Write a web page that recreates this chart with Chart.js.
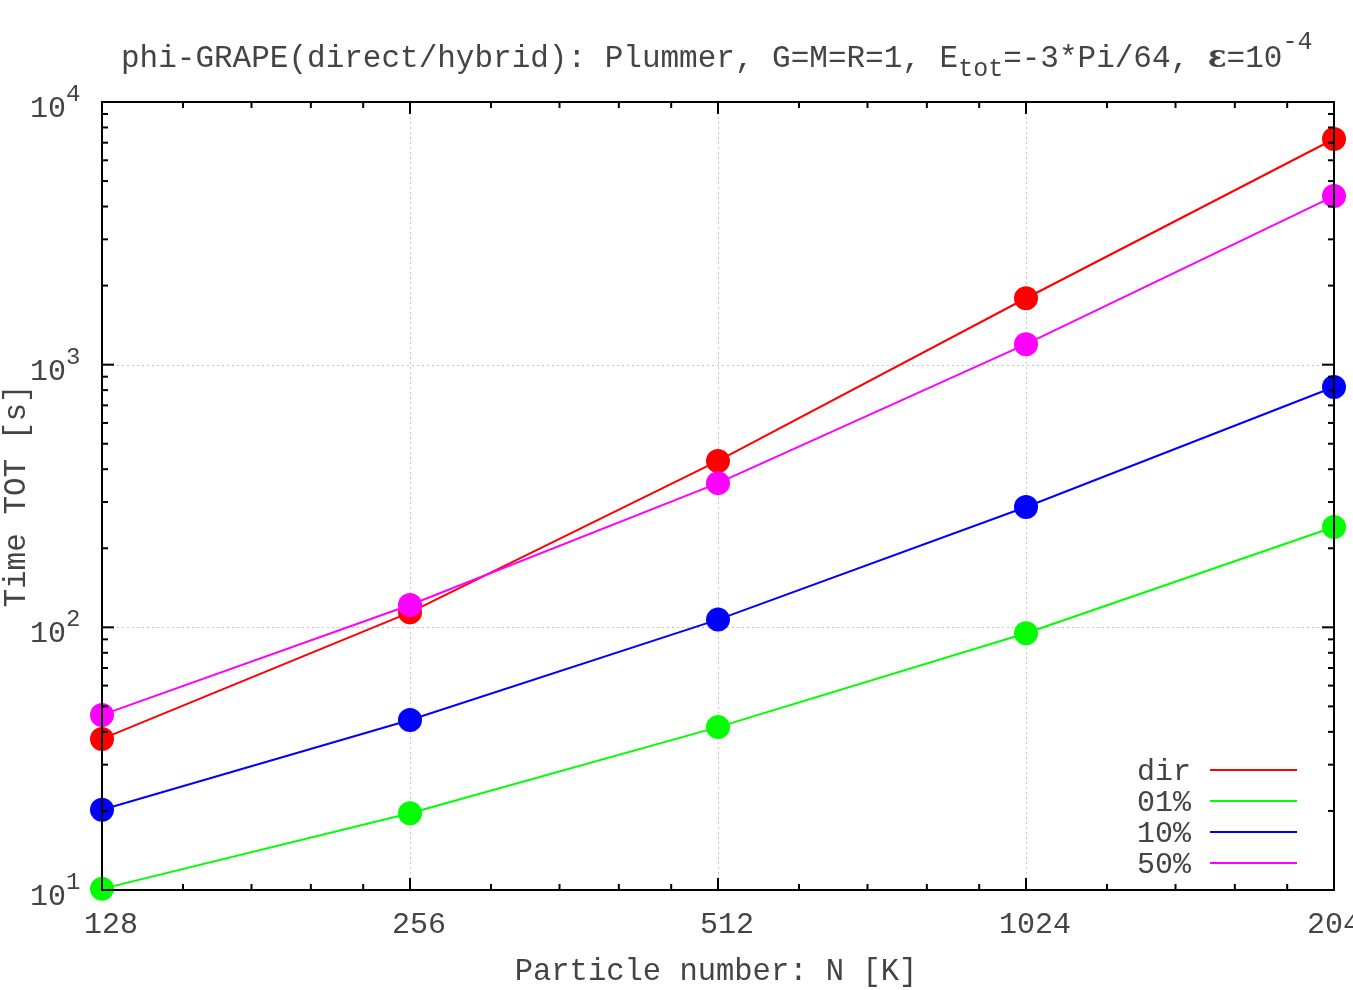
<!DOCTYPE html>
<html>
<head>
<meta charset="utf-8">
<script src="https://cdn.jsdelivr.net/npm/chart.js@4/dist/chart.umd.min.js"></script>
<style>
  html, body { margin: 0; padding: 0; background: #fff; overflow: hidden; }
  canvas { display: block; }
</style>
</head>
<body>
<canvas id="c" width="1353" height="990"></canvas>
<script>
// Particle number N [K] and total wall-clock time [s]
const particleCounts = [128, 256, 512, 1024, 2048];
const timeDirect = [37.6, 114, 430, 1790, 7230];
const time01 = [10.1, 19.6, 41.7, 95, 241];
const time10 = [20.2, 44.4, 107, 287, 822];
const time50 = [46.4, 121.6, 354, 1197, 4385];

const seriesNames = ['dir', '01%', '10%', '50%'];
const seriesColors = ['#ff0000', '#00ff00', '#0000ff', '#ff00ff'];

// Axis ticks
const xTickValues = [128, 256, 512, 1024, 2048];
const xMinorFactors = [1.2, 1.4, 1.6, 1.8];
const yDecades = [1, 2, 3, 4];
const yMinorFactors = [2, 3, 4, 5, 6, 7, 8, 9];

const FONT = '"Courier New", "Nimbus Mono PS", "FreeMono", "Liberation Mono", monospace';
const TEXT = '#444444';

function toPoints(vals) {
  return particleCounts.map((n, i) => ({ x: n, y: vals[i] }));
}

const allSeries = [timeDirect, time01, time10, time50];
const datasets = allSeries.map((vals, i) => ({
  label: seriesNames[i],
  data: toPoints(vals),
  borderColor: seriesColors[i],
  backgroundColor: seriesColors[i],
  pointBackgroundColor: seriesColors[i],
  pointBorderColor: seriesColors[i],
  pointBorderWidth: 0,
  pointRadius: 12,
  borderWidth: 2,
  tension: 0,
  clip: false,
  order: allSeries.length - i
}));

function drawRich(ctx, x, y, parts) {
  let cx = x;
  for (const p of parts) {
    ctx.font = (p.bold ? 'bold ' : '') + p.size + 'px ' + (p.family || FONT);
    ctx.fillText(p.t, cx, y + (p.dy || 0));
    cx += ctx.measureText(p.t).width;
  }
  return cx;
}

const gnuplotFrame = {
  id: 'gnuplotFrame',
  beforeDatasetsDraw(chart) {
    const { ctx, chartArea: a, scales: { x, y } } = chart;
    ctx.save();
    ctx.strokeStyle = '#c4c4c4';
    ctx.lineWidth = 1;
    ctx.setLineDash([2, 3]);
    xTickValues.forEach(v => {
      const px = Math.round(x.getPixelForValue(v)) + 0.5;
      if (px <= a.left + 1 || px >= a.right - 1) return;
      ctx.beginPath(); ctx.moveTo(px, a.top); ctx.lineTo(px, a.bottom); ctx.stroke();
    });
    yDecades.forEach(d => {
      const py = Math.round(y.getPixelForValue(Math.pow(10, d))) + 0.5;
      if (py <= a.top + 1 || py >= a.bottom - 1) return;
      ctx.beginPath(); ctx.moveTo(a.left, py); ctx.lineTo(a.right, py); ctx.stroke();
    });
    ctx.restore();
  },
  afterDatasetsDraw(chart) {
    const { ctx, chartArea: a, scales: { x, y } } = chart;
    ctx.save();
    ctx.setLineDash([]);
    ctx.strokeStyle = '#000';
    ctx.lineWidth = 2;
    // ticks on all four sides, pointing inward
    const MAJ = 12, MIN = 6;
    const vTick = (px, len) => {
      ctx.beginPath(); ctx.moveTo(px, a.bottom); ctx.lineTo(px, a.bottom - len); ctx.stroke();
      ctx.beginPath(); ctx.moveTo(px, a.top); ctx.lineTo(px, a.top + len); ctx.stroke();
    };
    const hTick = (py, len) => {
      ctx.beginPath(); ctx.moveTo(a.left, py); ctx.lineTo(a.left + len, py); ctx.stroke();
      ctx.beginPath(); ctx.moveTo(a.right, py); ctx.lineTo(a.right - len, py); ctx.stroke();
    };
    xTickValues.forEach((v, i) => {
      vTick(x.getPixelForValue(v), MAJ);
      if (i < xTickValues.length - 1) {
        xMinorFactors.forEach(f => vTick(x.getPixelForValue(v * f), MIN));
      }
    });
    yDecades.forEach((d, i) => {
      const base = Math.pow(10, d);
      hTick(y.getPixelForValue(base), MAJ);
      if (i < yDecades.length - 1) {
        yMinorFactors.forEach(f => hTick(y.getPixelForValue(base * f), MIN));
      }
    });
    // border
    ctx.lineWidth = 2;
    ctx.strokeRect(a.left, a.top, a.right - a.left, a.bottom - a.top);

    // tick labels
    ctx.fillStyle = TEXT;
    ctx.textBaseline = 'alphabetic';
    ctx.font = '30px ' + FONT;
    ctx.textAlign = 'center';
    xTickValues.forEach(v => {
      ctx.fillText(String(v), x.getPixelForValue(v) + 9, a.bottom + 43);
    });
    ctx.textAlign = 'left';
    yDecades.forEach(d => {
      const py = y.getPixelForValue(Math.pow(10, d));
      drawRich(ctx, 30, py + 15, [
        { t: '10', size: 30 },
        { t: String(d), size: 24, dy: -16 }
      ]);
    });

    // axis titles
    ctx.font = '30.5px ' + FONT;
    ctx.textAlign = 'center';
    ctx.fillText('Particle number: N [K]', (a.left + a.right) / 2 - 2, 980);
    ctx.save();
    ctx.translate(25, (a.top + a.bottom) / 2);
    ctx.rotate(-Math.PI / 2);
    ctx.font = '31px ' + FONT;
    ctx.fillText('Time TOT [s]', 0, 0);
    ctx.restore();

    // title
    ctx.textAlign = 'left';
    drawRich(ctx, 121, 67, [
      { t: 'phi-GRAPE(direct/hybrid): Plummer, G=M=R=1, E', size: 31 },
      { t: 'tot', size: 25, dy: 9 },
      { t: '=-3*Pi/64, ', size: 31 },
      { t: '\u03b5', size: 31, bold: true, family: '"DejaVu Serif", serif' },
      { t: '=10', size: 31 },
      { t: '-4', size: 25, dy: -18 }
    ]);

    // key
    ctx.font = '30px ' + FONT;
    ctx.textAlign = 'right';
    seriesNames.forEach((name, i) => {
      const ry = 770 + i * 31;
      ctx.fillStyle = TEXT;
      ctx.fillText(name, 1191, ry + 10);
      ctx.strokeStyle = seriesColors[i];
      ctx.lineWidth = 2;
      ctx.beginPath(); ctx.moveTo(1210, ry); ctx.lineTo(1297, ry); ctx.stroke();
    });
    ctx.restore();
  }
};

new Chart(document.getElementById('c'), {
  type: 'line',
  data: { datasets },
  options: {
    responsive: false,
    animation: false,
    devicePixelRatio: 1,
    layout: { padding: { left: 102, top: 102, right: 19, bottom: 100 } },
    plugins: { legend: { display: false }, title: { display: false }, tooltip: { enabled: false } },
    scales: {
      x: { type: 'logarithmic', min: 128, max: 2048, display: false },
      y: { type: 'logarithmic', min: 10, max: 10000, display: false }
    }
  },
  plugins: [gnuplotFrame]
});
</script>
</body>
</html>
